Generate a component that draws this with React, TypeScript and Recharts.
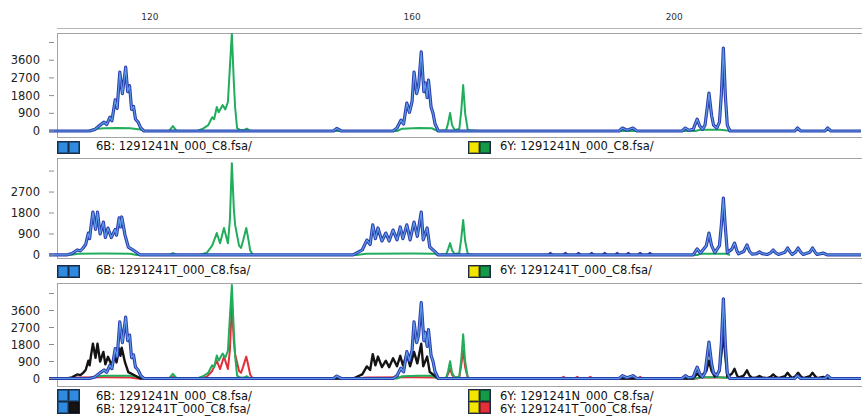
import { LineChart, Line, XAxis, YAxis } from "recharts";

// Fragment-analysis style trace view: 3 stacked panels sharing one size axis (bp).
// Points are [size, RFU].
type Pt = [number, number];

const X_MIN = 104.6;
const X_MAX = 228.5;
const sizeTicks = [120, 160, 200];

const rfuTicksTall = [0, 900, 1800, 2700, 3600, 4500];
const rfuTicksShort = [0, 900, 1800, 2700, 3600];

// 6B / 6Y channels of sample N
const blueN: Pt[] = [
  [104.6, 0], [110.8, 0], [111.6, 80], [112.4, 300], [113.0, 450], [113.4, 330], [113.9, 700],
  [114.2, 520], [114.7, 1580], [115.0, 1150], [115.4, 3000], [115.8, 1900], [116.3, 3250],
  [116.6, 2000], [116.9, 2300], [117.2, 1100], [117.5, 1250], [117.8, 600], [118.2, 450],
  [118.6, 150], [119.1, 0],
  [148.0, 0], [148.5, 130], [149.2, 0],
  [157.1, 0], [157.7, 150], [158.3, 550], [158.7, 350], [159.2, 1420], [159.6, 950], [160.0, 1500],
  [160.3, 3000], [160.7, 1900], [161.0, 2300], [161.4, 4020], [161.8, 2000], [162.0, 2450],
  [162.3, 1700], [162.5, 2590], [162.9, 1220], [163.2, 900], [163.5, 370], [164.0, 0],
  [191.6, 0], [192.1, 150], [192.8, 40], [193.7, 150], [194.3, 0],
  [201.2, 0], [201.7, 150], [202.2, 40], [202.9, 80], [203.2, 350], [203.5, 600], [203.9, 250],
  [204.3, 80], [204.7, 300], [205.0, 1100], [205.3, 1930], [205.7, 800], [206.0, 300],
  [206.5, 150], [206.9, 450], [207.2, 1900], [207.5, 4220], [207.8, 1800], [208.1, 300], [208.5, 0],
  [218.4, 0], [218.8, 150], [219.3, 0], [223.0, 0], [223.4, 150], [223.9, 0],
  [228.5, 0],
];

const greenN: Pt[] = [
  [110.6, 0], [111.5, 100], [113.0, 140], [115.0, 150], [117.0, 140], [118.5, 80], [119.2, 0],
  [122.9, 0], [123.5, 250], [124.1, 0],
  [127.2, 0], [128.1, 120], [128.9, 300], [129.5, 700], [129.8, 600], [130.2, 1220], [130.5, 950],
  [131.1, 1320], [131.5, 1100], [131.9, 1475], [132.2, 3250], [132.5, 4950], [132.8, 2500],
  [133.0, 1200], [133.3, 150], [133.7, 60], [134.3, 40], [134.8, 120], [135.3, 0],
  [157.7, 0], [158.5, 120], [161.0, 150], [163.0, 140], [163.9, 0],
  [165.2, 40], [165.5, 400], [165.8, 915], [166.1, 300], [166.5, 50], [167.2, 100], [167.5, 1000],
  [167.8, 2340], [168.1, 900], [168.5, 60], [169.0, 20], [170.4, 0],
  [203.2, 0], [204.0, 60], [207.0, 60], [208.8, 0],
];

// 6B / 6Y channels of sample T
const blueT: Pt[] = [
  [104.6, 0], [107.3, 0], [108.1, 60], [108.9, 215], [109.4, 180], [109.8, 300], [110.2, 450],
  [110.6, 940], [110.8, 700], [111.0, 1200], [111.3, 1840], [111.7, 1100], [112.0, 1840],
  [112.4, 900], [112.9, 1410], [113.2, 750], [113.6, 1150], [114.1, 750], [114.7, 1100],
  [114.9, 850], [115.3, 1590], [115.5, 1200], [115.7, 1630], [116.2, 850], [116.7, 340],
  [117.5, 200], [118.5, 0],
  [151.0, 0], [152.4, 215], [153.1, 640], [153.6, 450], [154.0, 1290], [154.4, 700], [154.8, 1160],
  [155.4, 600], [156.0, 940], [156.5, 600], [157.1, 1070], [157.7, 650], [158.2, 1200],
  [158.6, 700], [159.2, 1290], [159.7, 650], [160.3, 1410], [160.8, 800], [161.4, 1840],
  [161.7, 650], [162.3, 1160], [162.7, 340], [163.2, 215], [164.0, 0],
  [202.9, 0], [203.5, 260], [204.0, 80], [204.9, 400], [205.3, 940], [205.7, 400], [206.2, 100],
  [206.9, 400], [207.2, 1300], [207.5, 2440], [207.8, 1200], [208.1, 100], [208.8, 250],
  [209.2, 510], [209.6, 150], [209.8, 50], [210.6, 150], [211.1, 430], [211.5, 150], [211.9, 30],
  [212.6, 60], [213.0, 130], [213.4, 60], [214.2, 20], [214.7, 90], [215.1, 215], [215.5, 90],
  [215.9, 20], [216.9, 120], [217.3, 300], [217.7, 120], [218.0, 20], [218.5, 120], [218.9, 300],
  [219.3, 120], [219.7, 20], [220.7, 120], [221.1, 300], [221.5, 120], [221.8, 20], [222.7, 80],
  [223.4, 0],
  [228.5, 0],
];

const greenT: Pt[] = [
  [107.8, 0], [109.0, 50], [113.0, 60], [117.0, 50], [118.0, 0],
  [123.0, 0], [123.5, 85], [124.0, 0],
  [127.6, 0], [128.7, 100], [129.5, 400], [130.2, 940], [130.7, 500], [131.3, 1160], [131.9, 500],
  [132.2, 1500], [132.5, 3940], [132.8, 2000], [133.0, 1290], [133.6, 400], [133.9, 300],
  [134.2, 600], [134.7, 1160], [135.0, 700], [135.3, 200], [135.7, 0],
  [151.5, 0], [153.0, 50], [160.0, 60], [163.5, 50], [164.0, 0],
  [165.2, 30], [165.5, 250], [165.8, 510], [166.1, 200], [166.5, 40], [167.2, 80], [167.5, 700],
  [167.8, 1500], [168.1, 600], [168.5, 40], [169.5, 0],
  [203.5, 0], [204.0, 50], [208.0, 50], [208.5, 0],
];

// small blips between the clusters
const blipsT: Pt[] = [
  [180.7, 0], [181.1, 90], [181.5, 0], [183.0, 0], [183.4, 90], [183.8, 0], [185.0, 0], [185.4, 90],
  [185.8, 0], [187.0, 0], [187.4, 90], [187.8, 0], [189.0, 0], [189.4, 90], [189.8, 0],
  [190.9, 0], [191.3, 90], [191.7, 0], [192.6, 0], [193.0, 90], [193.4, 0], [194.4, 0],
  [194.8, 90], [195.2, 0], [195.9, 0], [196.3, 90], [196.7, 0],
];
const blipsOverlay: Pt[] = [
  [182.7, 0], [183.1, 90], [183.5, 0], [184.8, 0], [185.2, 90], [185.6, 0], [186.8, 0],
  [187.2, 90], [187.6, 0], [194.4, 0], [194.8, 90], [195.2, 0],
];

const legendLeft = [
  ["6B: 1291241N_000_C8.fsa/"],
  ["6B: 1291241T_000_C8.fsa/"],
  ["6B: 1291241N_000_C8.fsa/", "6B: 1291241T_000_C8.fsa/"],
];
const legendRight = [
  ["6Y: 1291241N_000_C8.fsa/"],
  ["6Y: 1291241T_000_C8.fsa/"],
  ["6Y: 1291241N_000_C8.fsa/", "6Y: 1291241T_000_C8.fsa/"],
];

const BLUE_DARK = "#2b3cab";
const BLUE_LIGHT = "#5b9be6";
const GREEN = "#21ad5c";
const BLACK = "#141414";
const RED = "#e2303a";
const SW_BLUE = "#2f8ae0";
const SW_YELLOW = "#f2e600";
const SW_GREEN = "#149a48";

const swatchLeft = [
  [[SW_BLUE, SW_BLUE]],
  [[SW_BLUE, SW_BLUE]],
  [[SW_BLUE, SW_BLUE], [SW_BLUE, BLACK]],
];
const swatchRight = [
  [[SW_YELLOW, SW_GREEN]],
  [[SW_YELLOW, SW_GREEN]],
  [[SW_YELLOW, SW_GREEN], [SW_YELLOW, RED]],
];

const FONT = "'DejaVu Sans', sans-serif";
const PAD_BOTTOM = 10; // room under the plot so the "0" label isn't clipped

const toRows = (pts: Pt[]) => pts.map(([x, y]) => ({ x, y }));

interface Trace {
  name: string;
  pts: Pt[];
  color: string;
  width: number;
}

// blue traces get a dark outline with a lighter core, like the scan
function blueTrace(name: string, pts: Pt[]): Trace[] {
  return [
    { name: name + "-o", pts, color: BLUE_DARK, width: 3.2 },
    { name: name + "-i", pts, color: BLUE_LIGHT, width: 1.2 },
  ];
}

function makeYTick(labelMax: number) {
  return (props: any) => {
    const { y, payload } = props;
    return (
      <g>
        <line x1={49} x2={54} y1={y} y2={y} stroke="#8c8c8c" strokeWidth={1} />
        {payload.value <= labelMax && (
          <text x={40} y={y} dy="0.36em" textAnchor="end" fontSize={11.5} fontFamily={FONT} fill="#222">
            {payload.value}
          </text>
        )}
      </g>
    );
  };
}

function TopTick(props: any) {
  const { x, payload } = props;
  return (
    <text x={x} y={19.5} textAnchor="middle" fontSize={9} fontFamily={FONT} fill="#333">
      {payload.value}
    </text>
  );
}

function Panel({
  top,
  height,
  domain,
  ticks,
  labelMax,
  traces,
  showSizes,
}: {
  top: number;
  height: number;
  domain: [number, number];
  ticks: number[];
  labelMax: number;
  traces: Trace[];
  showSizes?: boolean;
}) {
  return (
    <div style={{ position: "absolute", left: 0, top }}>
      <LineChart
        width={862}
        height={height + PAD_BOTTOM}
        margin={{ top: showSizes ? 13 : 0, right: 1, bottom: PAD_BOTTOM, left: 0 }}
      >
        <XAxis
          type="number"
          dataKey="x"
          domain={[X_MIN, X_MAX]}
          allowDataOverflow
          orientation="top"
          hide={!showSizes}
          ticks={sizeTicks}
          height={20}
          axisLine={false}
          tickLine={false}
          tick={TopTick}
        />
        <YAxis
          type="number"
          domain={domain}
          allowDataOverflow
          ticks={ticks}
          interval={0}
          width={49}
          axisLine={false}
          tickLine={false}
          tick={makeYTick(labelMax)}
        />
        {traces.map((t) => (
          <Line
            key={t.name}
            name={t.name}
            data={toRows(t.pts)}
            dataKey="y"
            type="linear"
            stroke={t.color}
            strokeWidth={t.width}
            strokeLinejoin="round"
            dot={false}
            activeDot={false}
            isAnimationActive={false}
          />
        ))}
      </LineChart>
    </div>
  );
}

function Swatch({ rows }: { rows: string[][] }) {
  return (
    <div style={{ background: "#1d2a44", padding: 1, display: "inline-block" }}>
      {rows.map((r, i) => (
        <div key={i} style={{ display: "flex", gap: 1, marginTop: i ? 1 : 0 }}>
          {r.map((c, j) => (
            <div key={j} style={{ width: 10, height: 11, background: c, boxShadow: "inset 0 0 0 1px rgba(0,0,0,0.35)" }} />
          ))}
        </div>
      ))}
    </div>
  );
}

function LegendRow({ top, idx }: { top: number; idx: number }) {
  const textStyle = {
    fontFamily: FONT,
    fontSize: 11.5,
    color: "#111",
    lineHeight: "13px",
    whiteSpace: "nowrap" as const,
  };
  return (
    <>
      <div style={{ position: "absolute", left: 57, top }}>
        <Swatch rows={swatchLeft[idx]} />
      </div>
      <div style={{ position: "absolute", left: 96, top: top + 0.5 }}>
        {legendLeft[idx].map((s) => (
          <div key={s} style={textStyle}>{s}</div>
        ))}
      </div>
      <div style={{ position: "absolute", left: 468, top }}>
        <Swatch rows={swatchRight[idx]} />
      </div>
      <div style={{ position: "absolute", left: 500, top: top + 0.5 }}>
        {legendRight[idx].map((s) => (
          <div key={s} style={textStyle}>{s}</div>
        ))}
      </div>
    </>
  );
}

const frame = (top: number, height: number) => (
  <div
    style={{
      position: "absolute",
      left: 57,
      top,
      width: 806,
      height,
      boxSizing: "border-box",
      border: "1px solid #a4a4a4",
    }}
  />
);

export default function App() {
  return (
    <div
      style={{
        position: "fixed",
        left: 0,
        top: 0,
        width: 862,
        height: 419,
        background: "#fff",
        overflow: "hidden",
      }}
    >
      <div style={{ position: "absolute", left: 57, top: 28, width: 806, borderTop: "1px solid #b4b4b4" }} />
      {frame(33, 105)}
      {frame(158, 101)}
      {frame(283, 104)}

      <Panel
        top={0}
        height={137}
        domain={[-305, 4983]}
        ticks={rfuTicksTall}
        labelMax={3600}
        showSizes
        traces={[
          { name: "gN", pts: greenN, color: GREEN, width: 2 },
          ...blueTrace("bN", blueN),
        ]}
      />
      <Panel
        top={158}
        height={100}
        domain={[-130, 4160]}
        ticks={rfuTicksShort}
        labelMax={2700}
        traces={[
          { name: "gT", pts: greenT, color: GREEN, width: 2 },
          { name: "dT", pts: blipsT, color: BLUE_DARK, width: 2 },
          ...blueTrace("bT", blueT),
        ]}
      />
      <Panel
        top={283}
        height={103}
        domain={[-397, 5056]}
        ticks={rfuTicksTall}
        labelMax={3600}
        traces={[
          { name: "rT", pts: greenT, color: RED, width: 2 },
          { name: "gN", pts: greenN, color: GREEN, width: 2 },
          { name: "rD", pts: blipsOverlay, color: RED, width: 2 },
          { name: "kT", pts: blueT, color: BLACK, width: 2.4 },
          ...blueTrace("bN", blueN),
        ]}
      />

      <LegendRow top={139} idx={0} />
      <LegendRow top={263} idx={1} />
      <LegendRow top={389} idx={2} />
    </div>
  );
}
